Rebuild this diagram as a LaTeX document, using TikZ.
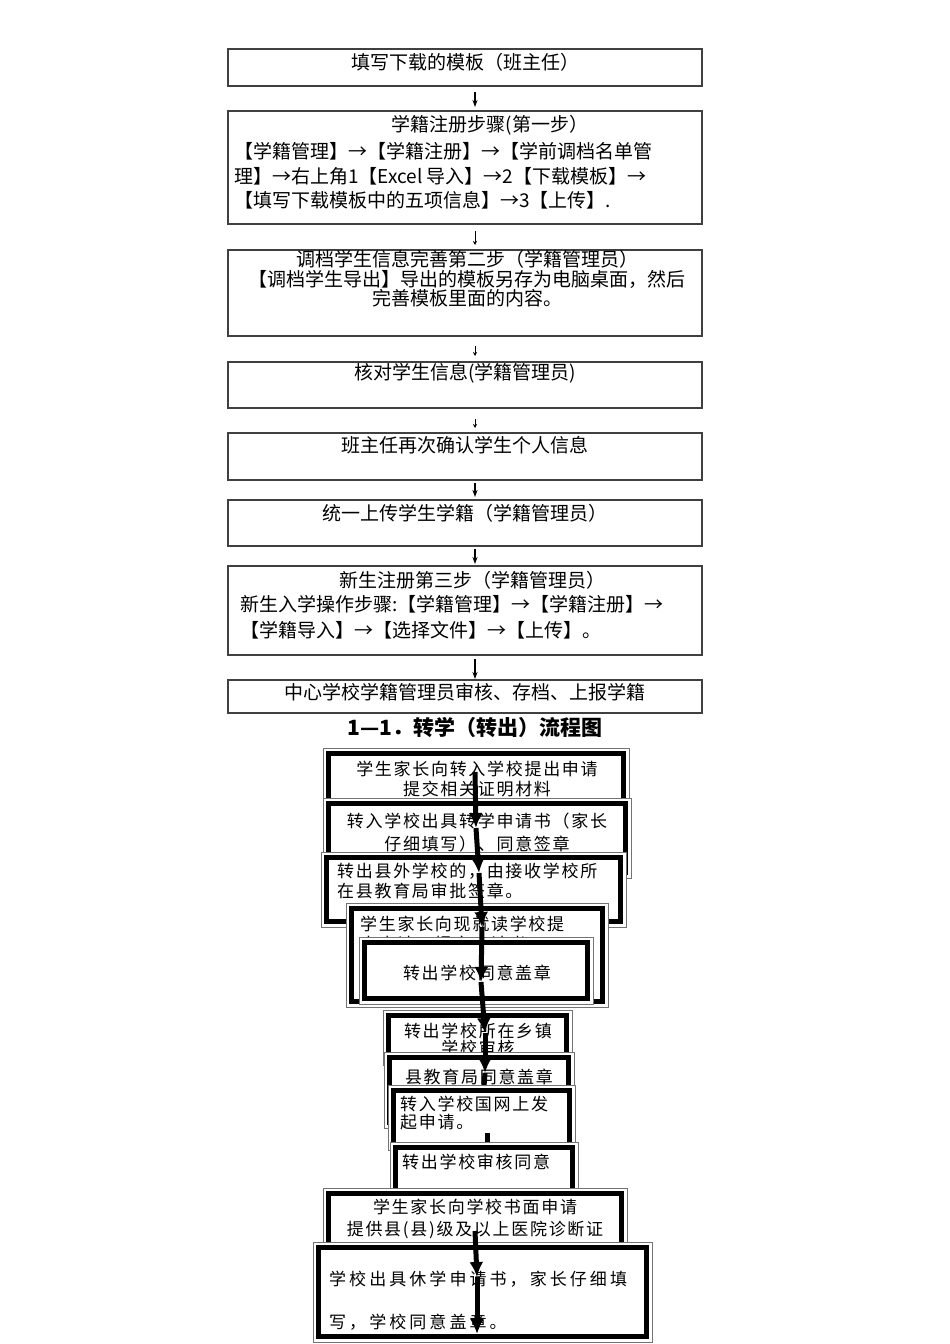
\documentclass[tikz,border=0pt]{standalone}
\usepackage{fontspec}
\usepackage{tikz}
\usetikzlibrary{arrows.meta}
\newfontfamily\cjk{Noto Sans CJK SC}
\newfontfamily\cjksp[LetterSpace=10]{Noto Sans CJK SC}
\newfontfamily\cjkwide[LetterSpace=18]{Noto Sans CJK SC}
% thick inner frame of the lower boxes
\newcommand{\thickframe}[1]{\draw[line width=5pt] ([shift={(5.5,5.5)}]#1.north west) rectangle ([shift={(-5.5,-5.5)}]#1.south east);}

\begin{document}
\begin{tikzpicture}[x=1pt,y=-1pt,
  topbox/.style={draw=black!75, line width=1.4pt, fill=white, anchor=north west, inner sep=0pt, outer sep=0pt, minimum width=474pt},
  lowbox/.style={draw=black!55, line width=0.8pt, fill=white, anchor=north west, inner sep=0pt, outer sep=0pt},
  toptext/.style={font=\cjk\fontsize{19}{24.5}\selectfont, inner sep=0pt},
  lowtext/.style={font=\cjksp\fontsize{17}{20}\selectfont, inner sep=0pt},
  thinarrow/.style={-{Stealth[length=7pt,width=5pt]}, line width=1.2pt},
  tinyarrow/.style={-{Stealth[length=4pt,width=4pt]}, line width=1pt},
  bigarrow/.style={-{Latex[length=15pt,width=14pt]}, line width=5pt}]
  \useasboundingbox (0,0) rectangle (950,1344);
  % Registration steps
  \node[topbox, minimum height=37pt] (fill) at (228,49) {};
  \node[toptext] (filltxt) at (465,62) {填写下载的模板（班主任）};
  \node[topbox, minimum height=113pt] (regist) at (228,111) {};
  \node[toptext] (registtl) at (490,125) {学籍注册步骤(第一步）};
  \node[toptext, anchor=north west, align=left] (registtxt) at (234,142.5)
    {【学籍管理】→【学籍注册】→【学前调档名单管\\理】→右上角1【Excel 导入】→2【下载模板】→\\【填写下载模板中的五项信息】→3【上传】.};
  \node[topbox, minimum height=86pt] (perfect) at (228,250) {};
  \node[toptext, anchor=north, align=center, font=\cjk\fontsize{19}{19.5}\selectfont] (perfecttxt) at (467,250.5)
    {调档学生信息完善第二步（学籍管理员）\\【调档学生导出】导出的模板另存为电脑桌面，然后\\完善模板里面的内容。};
  \node[topbox, minimum height=46pt] (check) at (228,362) {};
  \node[toptext] (checktxt) at (465,373) {核对学生信息(学籍管理员)};
  \node[topbox, minimum height=47pt] (confirm) at (228,433) {};
  \node[toptext] (confirmtxt) at (465,445) {班主任再次确认学生个人信息};
  \node[topbox, minimum height=46pt] (upload) at (228,500) {};
  \node[toptext] (uploadtxt) at (465,513) {统一上传学生学籍（学籍管理员）};
  \node[topbox, minimum height=89pt] (newreg) at (228,566) {};
  \node[toptext] (newregtl) at (472,580) {新生注册第三步（学籍管理员）};
  \node[toptext, anchor=north west, align=left, font=\cjk\fontsize{19}{26}\selectfont] (newregtxt) at (240,595.5)
    {新生入学操作步骤:【学籍管理】→【学籍注册】→\\【学籍导入】→【选择文件】→【上传】。};
  \node[topbox, minimum height=33pt] (center) at (228,680) {};
  \node[toptext] (centertxt) at (465,692) {中心学校学籍管理员审核、存档、上报学籍};
  % Arrows between steps
  \draw[thinarrow] ([shift={(10,6)}]fill.south) -- ([shift={(10,-4)}]regist.north);
  \draw[tinyarrow] ([shift={(10,7)}]regist.south) -- ([shift={(10,-5)}]perfect.north);
  \draw[tinyarrow] ([shift={(10,10)}]perfect.south) -- ([shift={(10,-6)}]check.north);
  \draw[tinyarrow] ([shift={(10,11)}]check.south) -- ([shift={(10,-5)}]confirm.north);
  \draw[thinarrow] ([shift={(10,3)}]confirm.south) -- ([shift={(10,-3)}]upload.north);
  \draw[thinarrow] ([shift={(10,3)}]upload.south) -- ([shift={(10,-2)}]newreg.north);
  \draw[thinarrow] ([shift={(10,4)}]newreg.south) -- ([shift={(10,-1)}]center.north);
  % Title
  \node[font=\cjk\bfseries\fontsize{21}{24}\selectfont, inner sep=0pt] (title) at (475,727) {1—1．转学（转出）流程图};
  % Transfer boxes
  \node[lowbox, minimum width=306pt, minimum height=82pt] (apply) at (323,748) {};
  \thickframe{apply}
  \node[lowtext, anchor=north, align=center] (applytxt) at (477,761) {学生家长向转入学校提出申请\\提交相关证明材料};
  \node[lowbox, minimum width=308pt, minimum height=80pt] (letter) at (323,798) {};
  \thickframe{letter}
  \node[lowtext, anchor=north, align=center, font=\cjksp\fontsize{17}{23}\selectfont] (lettertxt) at (477,813) {转入学校出具转学申请书（家长\\仔细填写）、同意签章};
  \node[lowbox, minimum width=305pt, minimum height=75pt] (county) at (321,852) {};
  \thickframe{county}
  \node[lowtext, anchor=north west, align=left] (countytxt) at (337,863) {转出县外学校的，由接收学校所\\在县教育局审批签章。};
  \node[lowbox, minimum width=262pt, minimum height=104pt] (parent) at (346,903) {};
  \thickframe{parent}
  \node[lowtext, anchor=north west, align=left] (parenttxt) at (360,916) {学生家长向现就读学校提\\出申请，提交申请书};
  \node[lowbox, minimum width=234pt, minimum height=67pt] (outsch) at (359,937) {};
  \thickframe{outsch}
  \node[lowtext] (outschtxt) at (477,973) {转出学校同意盖章};
  \node[lowbox, minimum width=189pt, minimum height=55pt] (town) at (383,1010) {};
  \thickframe{town}
  \node[lowtext, anchor=north, align=center, font=\cjksp\fontsize{17}{17}\selectfont] (towntxt) at (478,1023) {转出学校所在乡镇\\学校审核};
  \node[lowbox, minimum width=190pt, minimum height=76pt] (bureau) at (384,1052) {};
  \thickframe{bureau}
  \node[lowtext] (bureautxt) at (479,1077) {县教育局同意盖章};
  % Arrow chain
  \coordinate (p0) at (475,772);
  \coordinate (p1) at (476,828);
  \coordinate (p2) at (479,873);
  \coordinate (p3) at (482,927);
  \coordinate (p4) at (481,982);
  \coordinate (p5) at (485,1033);
  \coordinate (p6) at (485,1073);
  \coordinate (p7) at (483,1100);
  \draw[bigarrow] (p0) -- (p1);
  \draw[bigarrow] (p1) -- (p2);
  \draw[bigarrow] (p2) -- (p3);
  \draw[bigarrow] (p3) -- (p4);
  \draw[bigarrow] (p4) -- (p5);
  \draw[bigarrow] (p5) -- (p6);
  \draw[line width=5pt] (p6) -- (p7);
  \node[lowbox, minimum width=187pt, minimum height=65pt] (online) at (388,1085) {};
  \thickframe{online}
  \node[lowtext, anchor=north west, align=left, font=\cjksp\fontsize{17}{18}\selectfont] (onlinetxt) at (400,1096) {转入学校国网上发\\起申请。};
  \coordinate (q0) at (487,1133);
  \coordinate (q1) at (487,1150);
  \draw[line width=5pt] (q0) -- (q1);
  \node[lowbox, minimum width=188pt, minimum height=55pt] (approve) at (390,1142) {};
  \thickframe{approve}
  \node[lowtext, anchor=west] (approvetxt) at (402,1162) {转出学校审核同意};
  % Suspension boxes
  \node[lowbox, minimum width=304pt, minimum height=64pt] (sick) at (323,1188) {};
  \thickframe{sick}
  \node[lowtext, anchor=north, align=center, font=\cjksp\fontsize{17}{22}\selectfont] (sicktxt) at (475,1199) {学生家长向学校书面申请\\提供县(县)级及以上医院诊断证\\明};
  \node[lowbox, minimum width=339pt, minimum height=100pt] (suspend) at (313,1242) {};
  \thickframe{suspend}
  \node[lowtext, anchor=north west, align=left, font=\cjkwide\fontsize{17}{43}\selectfont] (suspendtxt) at (329,1271) {学校出具休学申请书，家长仔细填\\写，学校同意盖章。};
  \coordinate (r0) at (475,1231);
  \coordinate (r1) at (477,1277);
  \coordinate (r2) at (477,1334);
  \draw[bigarrow] (r0) -- (r1);
  \draw[bigarrow] (r1) -- (r2);
\end{tikzpicture}
\end{document}
